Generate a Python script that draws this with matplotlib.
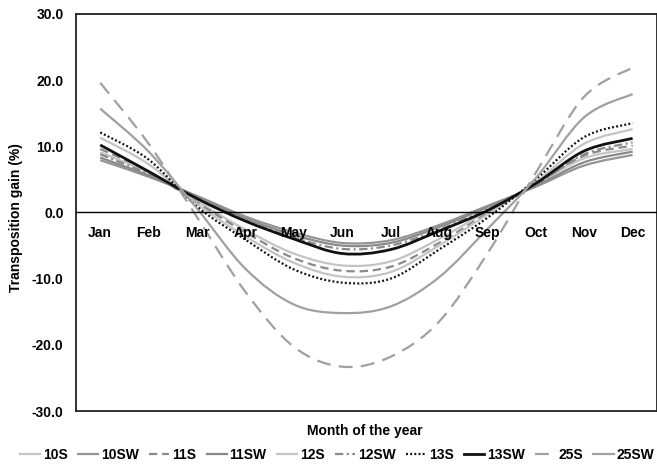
import matplotlib
matplotlib.use('Agg')
import matplotlib.pyplot as plt
import numpy as np
from matplotlib.path import Path
from matplotlib.patches import PathPatch
from matplotlib.lines import Line2D

plt.rcParams['font.family'] = ['Liberation Sans', 'DejaVu Sans']
plt.rcParams['font.weight'] = 'bold'
plt.rcParams['lines.scale_dashes'] = False

months = ['Jan', 'Feb', 'Mar', 'Apr', 'May', 'Jun', 'Jul', 'Aug', 'Sep', 'Oct', 'Nov', 'Dec']

# transposition gain (%) per month
gain_10S = [9.1, 6.0, 1.7, -2.6, -6.2, -8.0, -7.4, -4.0, 0.2, 4.2, 8.2, 9.6]
gain_10SW = [7.9, 5.4, 2.5, -0.6, -3.0, -4.6, -4.2, -1.9, 1.0, 3.9, 7.1, 8.7]
gain_11S = [9.6, 6.2, 1.5, -3.0, -6.9, -8.8, -8.2, -4.6, -0.1, 4.3, 8.6, 10.1]
gain_11SW = [8.3, 5.6, 2.4, -0.9, -3.4, -5.0, -4.6, -2.2, 0.8, 4.0, 7.6, 9.2]
gain_12S = [11.3, 7.3, 1.3, -3.6, -7.6, -9.7, -9.0, -5.0, -0.3, 4.6, 10.4, 12.6]
gain_12SW = [8.8, 5.8, 2.3, -1.2, -3.8, -5.5, -5.0, -2.6, 0.6, 4.2, 8.8, 10.6]
gain_13S = [12.1, 8.0, 0.9, -4.1, -8.6, -10.6, -10.0, -5.6, -0.8, 5.0, 11.4, 13.5]
gain_13SW = [10.2, 6.2, 2.1, -1.3, -4.0, -6.2, -5.6, -2.8, 0.3, 4.4, 9.3, 11.2]
gain_25S = [19.6, 10.4, -0.7, -12.0, -20.3, -23.3, -21.8, -16.5, -6.2, 6.0, 17.5, 21.9]
gain_25SW = [15.7, 9.2, 0.6, -8.5, -13.9, -15.2, -14.2, -9.8, -2.5, 5.2, 14.4, 17.9]

series = [
    ('10S', gain_10S, '#c4c4c4', 1.6, '-'),
    ('10SW', gain_10SW, '#959595', 1.6, '-'),
    ('11S', gain_11S, '#8a8a8a', 1.6, (0, (6, 3.5))),
    ('11SW', gain_11SW, '#8a8a8a', 1.6, '-'),
    ('12S', gain_12S, '#c4c4c4', 1.6, '-'),
    ('12SW', gain_12SW, '#8a8a8a', 1.6, (0, (6, 2.5, 1.5, 2.5))),
    ('13S', gain_13S, '#111111', 1.6, (0, (1.4, 1.6))),
    ('13SW', gain_13SW, '#111111', 2.0, '-'),
    ('25S', gain_25S, '#a0a0a0', 1.6, (0, (10, 6))),
    ('25SW', gain_25SW, '#a0a0a0', 1.6, '-'),
]


def smooth_path(x, y):
    # excel style smoothed line: cubic bezier through each data point
    pts = np.column_stack([x, y])
    n = len(pts)
    verts = [pts[0]]
    codes = [Path.MOVETO]
    for i in range(n - 1):
        p0 = pts[i - 1] if i > 0 else pts[i]
        p1 = pts[i]
        p2 = pts[i + 1]
        p3 = pts[i + 2] if i + 2 < n else pts[i + 1]
        c1 = p1 + (p2 - p0) / 6.0
        c2 = p2 - (p3 - p1) / 6.0
        verts += [c1, c2, p2]
        codes += [Path.CURVE4] * 3
    return Path(verts, codes)


fig = plt.figure(figsize=(6.57, 4.66), dpi=100)
ax = fig.add_axes([0.1157, 0.118, 0.884, 0.852])

x = np.arange(len(months))
handles = []
for name, vals, col, lw, ls in series:
    patch = PathPatch(smooth_path(x, vals), facecolor='none', edgecolor=col,
                      lw=lw, linestyle=ls, capstyle='butt', joinstyle='round')
    ax.add_patch(patch)
    handles.append(Line2D([], [], color=col, lw=lw, linestyle=ls, label=name))

ax.set_xlim(-0.5, 11.5)
ax.set_ylim(-30, 30)
ax.set_yticks(np.arange(-30, 31, 10))
ax.set_yticklabels([f'{v:.1f}' for v in np.arange(-30, 31, 10)], fontsize=10, fontweight='bold')
ax.tick_params(axis='y', length=0, pad=9)

ax.spines['bottom'].set_position(('data', 0))
ax.spines['bottom'].set_linewidth(1.0)
ax.set_xticks(x)
ax.set_xticklabels(months, fontsize=10, fontweight='bold')
ax.tick_params(axis='x', length=0, pad=10)
for side in ['left', 'top', 'right']:
    ax.spines[side].set_linewidth(1.3)
    ax.spines[side].set_color('#222222')
ax.axhline(-30, color='#222222', lw=1.3, clip_on=False)

fig.text(0.556, 0.075, 'Month of the year', ha='center', va='center', fontsize=10, fontweight='bold')
fig.text(0.024, 0.534, 'Transposition gain (%)', ha='center', va='center', rotation=90,
         fontsize=10, fontweight='bold')

fig.legend(handles=handles, loc='center', bbox_to_anchor=(0.513, 0.024), ncol=10,
           frameon=False, fontsize=10, handlelength=1.45, handletextpad=0.2,
           columnspacing=0.75, borderpad=0, borderaxespad=0)

fig.savefig('out.png', dpi=100)
